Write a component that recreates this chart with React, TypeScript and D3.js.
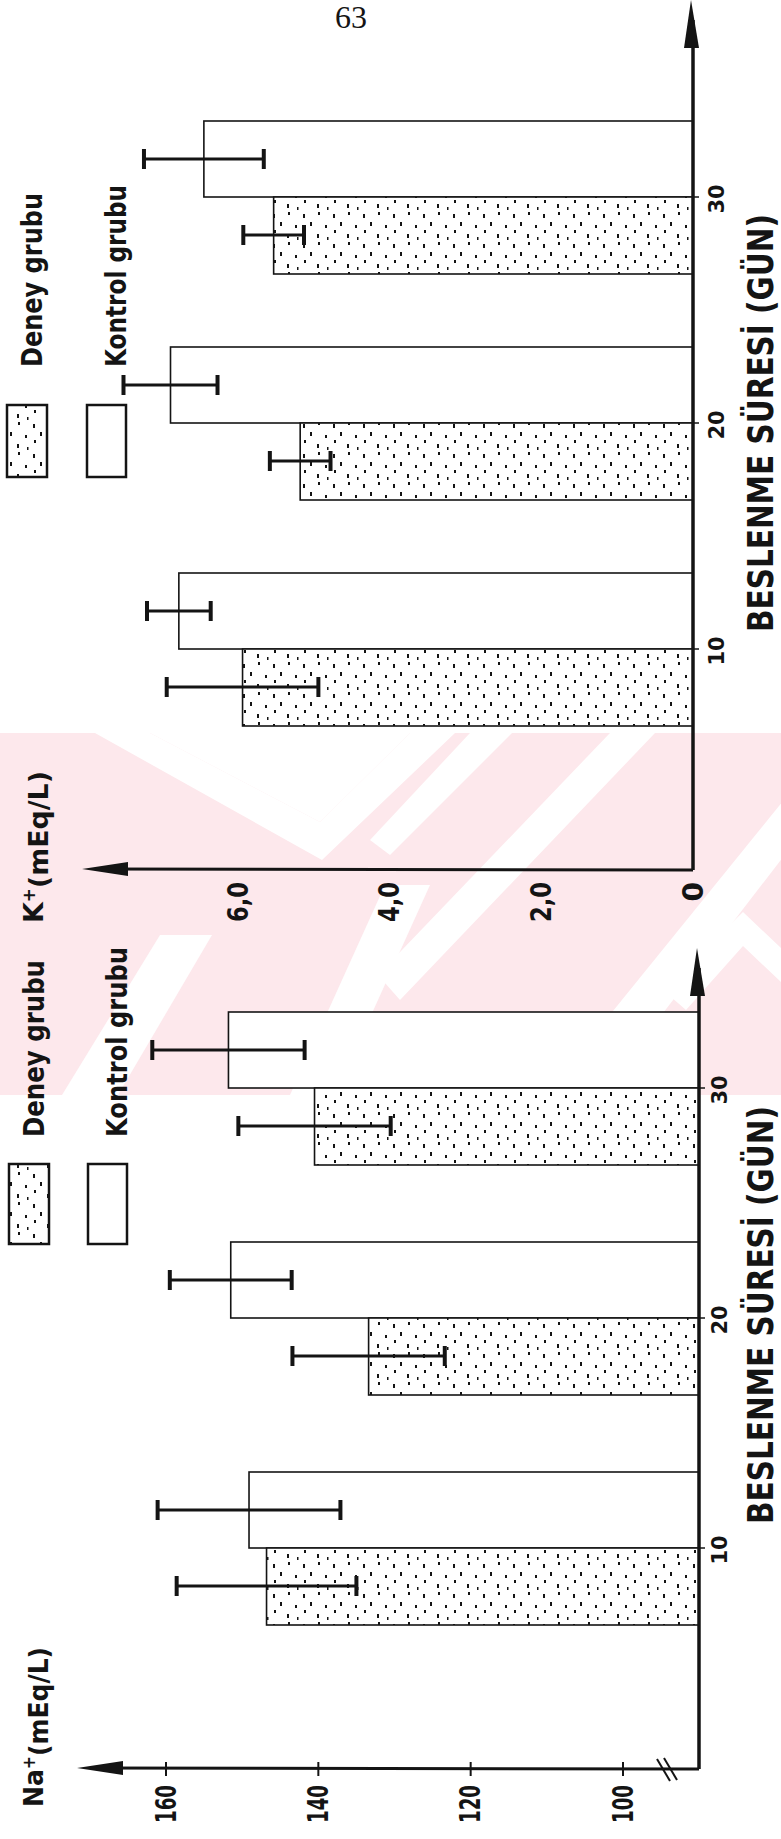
import React from "react";
import * as d3 from "d3";

const W = 781;
const H = 1839;

// Beslenme süresi (gün)
const DAYS = [10, 20, 30];

// K+ (mEq/L)
const K_DENEY = [5.94, 5.18, 5.53];
const K_DENEY_SD = [1.0, 0.4, 0.4];
const K_KONTROL = [6.78, 6.89, 6.45];
const K_KONTROL_SD = [0.42, 0.62, 0.79];
const K_TICKS = [0, 2, 4, 6];
const K_TICK_LABELS = ["0", "2,0", "4,0", "6,0"];

// Na+ (mEq/L)
const NA_DENEY = [146.8, 133.4, 140.5];
const NA_DENEY_SD = [11.8, 10, 10];
const NA_KONTROL = [149.1, 151.5, 151.8];
const NA_KONTROL_SD = [12, 8, 10];
const NA_TICKS = [100, 120, 140, 160];
const NA_TICK_LABELS = ["100", "120", "140", "160"];

const INK = "#141414";
const PINK = "#fde8ec";
const FONT = "'DejaVu Sans', 'Liberation Sans', sans-serif";
const BAR_W = 76;

function VText({ x, y, anchor = "middle", size = 28, weight = 400, len, children }: any) {
  return (
    <text
      transform={`translate(${x},${y}) rotate(-90)`}
      textAnchor={anchor}
      dy="0.35em"
      fontSize={size}
      fontWeight={weight}
      fontFamily={FONT}
      fill={INK}
      textLength={len}
      lengthAdjust={len ? "spacingAndGlyphs" : undefined}
    >
      {children}
    </text>
  );
}

function ErrorBar({ x0, x1, y }: any) {
  return (
    <g stroke={INK} fill="none">
      <line x1={x0} x2={x1} y1={y} y2={y} strokeWidth={3} />
      <line x1={x0} x2={x0} y1={y - 10} y2={y + 10} strokeWidth={4} />
      <line x1={x1} x2={x1} y1={y - 10} y2={y + 10} strokeWidth={4} />
    </g>
  );
}

function Panel({ cfg }: any) {
  const cat = d3.scaleLinear().domain([10, 30]).range(cfg.catRange);
  const val = d3.scaleLinear().domain(cfg.valDomain).range(cfg.valRange);
  const ax = cfg.axisX;
  const ay = cfg.axisY;

  return (
    <g>
      {/* bars */}
      {DAYS.map((d, i) => {
        const yc = cat(d);
        const xk = val(cfg.kontrol[i]);
        const xd = val(cfg.deney[i]);
        return (
          <g key={d}>
            <rect x={xk} y={yc - BAR_W} width={ax - xk} height={BAR_W} fill="#fff" stroke={INK} strokeWidth={1.6} />
            <rect x={xd} y={yc} width={ax - xd} height={BAR_W + 1} fill="url(#dots)" stroke={INK} strokeWidth={1.6} />
            <ErrorBar
              x0={val(cfg.kontrol[i] + cfg.kontrolSd[i])}
              x1={val(cfg.kontrol[i] - cfg.kontrolSd[i])}
              y={yc - BAR_W / 2}
            />
            <ErrorBar
              x0={val(cfg.deney[i] + cfg.deneySd[i])}
              x1={val(cfg.deney[i] - cfg.deneySd[i])}
              y={yc + BAR_W / 2}
            />
            <line x1={ax} x2={ax + 6} y1={yc} y2={yc} stroke={INK} strokeWidth={1.5} />
            <VText x={cfg.catLabelX} y={yc + 2} size={21} weight={700}>{String(d)}</VText>
          </g>
        );
      })}

      {/* category axis with arrow */}
      <line x1={ax} x2={ax} y1={ay} y2={cfg.catTip + 20} stroke={INK} strokeWidth={3.5} />
      <polygon
        points={`${ax - 2},${cfg.catTip} ${ax - 9},${cfg.catTip + 48} ${ax + 6},${cfg.catTip + 48}`}
        fill={INK}
      />

      {/* value axis with arrow */}
      <line x1={ax} x2={cfg.valTip + 20} y1={ay} y2={ay - 1} stroke={INK} strokeWidth={3} />
      <polygon
        points={`${cfg.valTip},${ay - 1} ${cfg.valTip + 46},${ay - 8} ${cfg.valTip + 46},${ay + 6}`}
        fill={INK}
      />

      {cfg.ticks.map((t: number, i: number) => {
        const lab = cfg.tickLabels[i];
        return (
          <g key={t}>
            {cfg.tickMarks && (
              <line x1={val(t)} x2={val(t)} y1={ay - 7} y2={ay + 7} stroke={INK} strokeWidth={2} />
            )}
            <VText
              x={val(t)}
              y={cfg.tickLabelY}
              anchor="end"
              size={28}
              weight={700}
              len={lab.length > 1 ? cfg.tickLabelLen : undefined}
            >
              {lab}
            </VText>
          </g>
        );
      })}

      {cfg.axisBreak && (
        <g stroke={INK} strokeWidth={2}>
          <line x1={657} y1={1759} x2={670} y2={1781} />
          <line x1={664} y1={1758} x2={677} y2={1780} />
        </g>
      )}

      {/* legend */}
      <rect x={cfg.legend.x1} y={cfg.legend.y} width={40} height={cfg.legend.h} fill="url(#dots)" stroke={INK} strokeWidth={2.5} />
      <rect x={cfg.legend.x2} y={cfg.legend.y} width={39} height={cfg.legend.h} fill="#fff" stroke={INK} strokeWidth={2.5} />
      <VText x={cfg.legend.x1 + 25} y={cfg.legend.textY} anchor="start" size={28} weight={700} len={cfg.legend.len1}>
        Deney  grubu
      </VText>
      <VText x={cfg.legend.x2 + 29} y={cfg.legend.textY} anchor="start" size={28} weight={700} len={cfg.legend.len2}>
        Kontrol  grubu
      </VText>

      {/* axis titles */}
      <VText x={34} y={cfg.yTitleY} anchor="start" size={27} weight={700} len={cfg.yTitleLen}>
        {cfg.yTitle}
        <tspan dy="-0.5em" fontSize={17}>+</tspan>
        <tspan dy="0.5em">(mEq/L)</tspan>
      </VText>
      <VText x={760} y={cfg.xTitleY} anchor="start" size={36} weight={700} len={418}>
        BESLENME  SÜRESİ  (GÜN)
      </VText>
    </g>
  );
}

const UPPER = {
  catRange: [649, 197],
  valDomain: [0, 6],
  valRange: [693, 238],
  axisX: 693,
  axisY: 870,
  catTip: 0,
  valTip: 82,
  catLabelX: 717,
  deney: K_DENEY,
  deneySd: K_DENEY_SD,
  kontrol: K_KONTROL,
  kontrolSd: K_KONTROL_SD,
  ticks: K_TICKS,
  tickLabels: K_TICK_LABELS,
  tickLabelY: 882,
  tickLabelLen: 40,
  tickMarks: false,
  axisBreak: false,
  legend: { x1: 7, x2: 87, y: 405, h: 72, textY: 367, len1: 174, len2: 182 },
  yTitle: "K",
  yTitleY: 923,
  yTitleLen: 152,
  xTitleY: 632,
};

const LOWER = {
  catRange: [1548, 1088],
  valDomain: [100, 160],
  valRange: [623, 166],
  axisX: 699,
  axisY: 1769,
  catTip: 948,
  valTip: 77,
  catLabelX: 720,
  deney: NA_DENEY,
  deneySd: NA_DENEY_SD,
  kontrol: NA_KONTROL,
  kontrolSd: NA_KONTROL_SD,
  ticks: NA_TICKS,
  tickLabels: NA_TICK_LABELS,
  tickLabelY: 1785,
  tickLabelLen: 38,
  tickMarks: true,
  axisBreak: true,
  legend: { x1: 9, x2: 88, y: 1164, h: 80, textY: 1137, len1: 177, len2: 190 },
  yTitle: "Na",
  yTitleY: 1807,
  yTitleLen: 160,
  xTitleY: 1524,
};

// faint pink thesis watermark behind the axes
function Watermark() {
  return (
    <g>
      <clipPath id="wm">
        <rect x={0} y={733} width={W} height={362} />
      </clipPath>
      <rect x={0} y={733} width={W} height={362} fill={PINK} />
      <g fill="#fff" clipPath="url(#wm)">
        <polygon points="95,733 150,733 320,822 410,733 455,733 322,860" />
        <polygon points="150,733 410,733 320,822" />
        <polygon points="470,733 512,733 390,855 370,840" />
        <polygon points="610,733 655,733 400,1000 378,975" />
        <polygon points="160,935 212,935 118,1095 62,1095" />
        <polygon points="385,885 430,885 335,1095 290,1095" />
        <polygon points="800,780 800,835 600,1095 545,1095" />
        <polygon points="663,990 743,912 800,966 800,1000 743,946 686,1010" />
      </g>
    </g>
  );
}

export default function App() {
  return (
    <svg
      width={W}
      height={H}
      viewBox={`0 0 ${W} ${H}`}
      style={{ position: "absolute", left: 0, top: 0, background: "#fff" }}
    >
      <defs>
        <pattern id="dots" width={30} height={30} patternUnits="userSpaceOnUse">
          <rect x={0} y={0} width={30} height={30} fill="#fff" />
          <g fill={INK}>
            <rect x={3} y={4} width={2} height={4} />
            <rect x={18} y={2} width={2} height={3} />
            <rect x={10} y={12} width={2} height={4} />
            <rect x={25} y={15} width={2} height={3} />
            <rect x={4} y={20} width={2} height={3} />
            <rect x={17} y={24} width={2} height={4} />
            <rect x={27} y={27} width={1.5} height={3} />
          </g>
        </pattern>
      </defs>
      <rect x={0} y={0} width={W} height={H} fill="#fff" />
      <Watermark />
      <text x={351} y={28} textAnchor="middle" fontSize={32} fontFamily="'Liberation Serif', serif" fill={INK}>
        63
      </text>
      <Panel cfg={UPPER} />
      <Panel cfg={LOWER} />
    </svg>
  );
}
